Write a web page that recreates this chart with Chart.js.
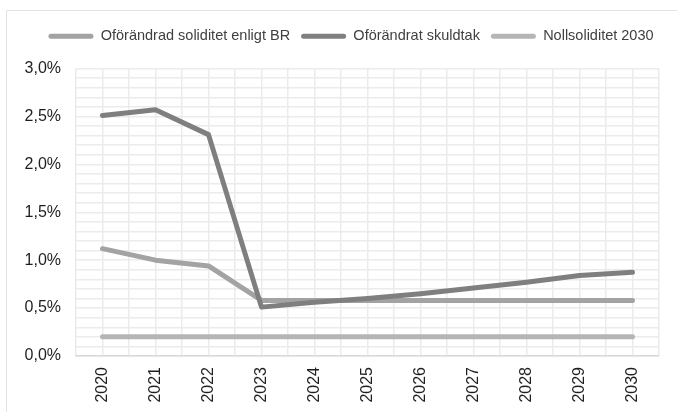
<!DOCTYPE html>
<html>
<head>
<meta charset="utf-8">
<script src="https://cdn.jsdelivr.net/npm/chart.js@4/dist/chart.umd.min.js"></script>
<style>
    html, body { margin: 0; padding: 0; background: #fff; overflow: hidden; width: 677px; height: 412px; }
    #frame { position: absolute; left: 6px; top: 10px; width: 720px; height: 440px; border: 1.5px solid #e3e3e3; }
    #wrap { position: absolute; left: 6px; top: 10px; width: 690px; height: 402px; }
</style>
</head>
<body>
<div id="frame"></div>
<div id="wrap"><canvas id="chart"></canvas></div>
<script>
// years on the x axis
const years = ['2020', '2021', '2022', '2023', '2024', '2025', '2026', '2027', '2028', '2029', '2030'];

// values in percent
const solidBR = [1.12, 1.00, 0.94, 0.58, 0.58, 0.58, 0.58, 0.58, 0.58, 0.58, 0.58];
const skuldtak = [2.51, 2.57, 2.31, 0.51, 0.56, 0.60, 0.65, 0.71, 0.77, 0.84, 0.875];
const noll2030 = [0.20, 0.20, 0.20, 0.20, 0.20, 0.20, 0.20, 0.20, 0.20, 0.20, 0.20];

const seriesNames = ['Oförändrad soliditet enligt BR', 'Oförändrat skuldtak', 'Nollsoliditet 2030'];
const seriesColors = ['#a3a3a3', '#7f7f7f', '#b5b5b5'];

const FONT = "'Liberation Sans', Arial, sans-serif";

function toPoints(values) {
    return values.map((v, i) => ({ x: i, y: v }));
}

function makeDataset(idx, values, order) {
    return {
        label: seriesNames[idx],
        data: toPoints(values),
        borderColor: seriesColors[idx],
        backgroundColor: seriesColors[idx],
        borderWidth: 5,
        borderCapStyle: 'round',
        borderJoinStyle: 'round',
        pointRadius: 0,
        tension: 0,
        order: order
    };
}

function pctLabel(v) {
    const twice = v * 2;
    if (Math.abs(twice - Math.round(twice)) > 1e-6) return '';
    return v.toFixed(1).replace('.', ',') + '%';
}

// more room under the legend, and centre it on the whole canvas
const legendTweak = {
    id: 'legendTweak',
    beforeInit(chart) {
        const fit = chart.legend.fit;
        chart.legend.fit = function () {
            fit.call(this);
            this.height += 15;
        };
    },
    afterLayout(chart) {
        chart.legend.left = 0;
        chart.legend.right = chart.width;
    }
};

new Chart(document.getElementById('chart'), {
    type: 'line',
    data: {
        datasets: [
            makeDataset(0, solidBR, 1),
            makeDataset(1, skuldtak, 0),
            makeDataset(2, noll2030, 2)
        ]
    },
    plugins: [legendTweak],
    options: {
        responsive: true,
        maintainAspectRatio: false,
        animation: false,
        layout: { padding: { top: 8, right: 37, bottom: 0, left: 0 } },
        plugins: {
            tooltip: { enabled: false },
            legend: {
                position: 'top',
                labels: {
                    font: { family: FONT, size: 14.5 },
                    color: '#404040',
                    boxWidth: 45,
                    boxHeight: 5,
                    padding: 11,
                    useBorderRadius: true,
                    borderRadius: 2.5,
                    sort: (a, b) => a.datasetIndex - b.datasetIndex,
                    generateLabels: (chart) => {
                        const items = Chart.defaults.plugins.legend.labels.generateLabels(chart);
                        return items.map(item => Object.assign(item, { lineWidth: 0 }));
                    }
                }
            }
        },
        scales: {
            x: {
                type: 'linear',
                min: -0.5,
                max: 10.5,
                afterFit: (scale) => { scale.height = 56; },
                ticks: {
                    stepSize: 0.5,
                    autoSkip: false,
                    minRotation: 90,
                    maxRotation: 90,
                    padding: 11,
                    color: '#1f1f1f',
                    font: { family: FONT, size: 16 },
                    callback: (v) => Number.isInteger(v) ? years[v] : ''
                },
                grid: { color: '#ebebeb', lineWidth: 1.5, drawTicks: false },
                border: { color: '#d9d9d9', width: 1.5 }
            },
            y: {
                min: 0,
                max: 3,
                afterFit: (scale) => { scale.width = 70; },
                ticks: {
                    stepSize: 0.1,
                    autoSkip: false,
                    padding: 15,
                    color: '#1f1f1f',
                    font: { family: FONT, size: 16 },
                    callback: pctLabel
                },
                grid: { color: '#ebebeb', lineWidth: 1.5, drawTicks: false },
                border: { display: false }
            }
        }
    }
});
</script>
</body>
</html>
